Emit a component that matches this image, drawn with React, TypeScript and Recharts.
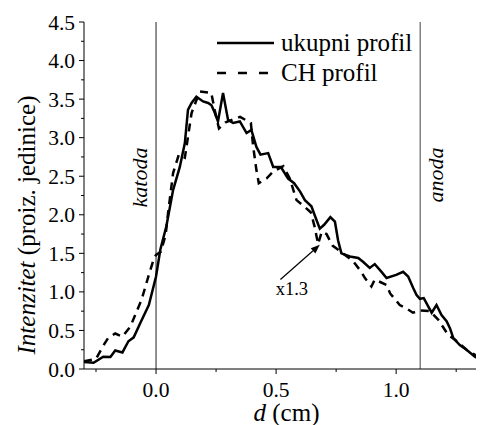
import React from 'react';
import { LineChart, Line, XAxis, YAxis, ReferenceLine, Legend, Label } from 'recharts';

const serif = 'Liberation Serif, DejaVu Serif, serif';

// ukupni profil (solid)
const ukupniD = [
  -0.3, -0.26, -0.22, -0.19, -0.17, -0.14, -0.115, -0.093, -0.065, -0.03, 0.0, 0.018, 0.043, 0.071,
  0.099, 0.12, 0.133, 0.148, 0.168, 0.196, 0.217, 0.231, 0.245, 0.258, 0.279, 0.3, 0.321, 0.349,
  0.377, 0.397, 0.418, 0.435, 0.467, 0.488, 0.52, 0.55, 0.575, 0.6, 0.62, 0.647, 0.66, 0.682, 0.7,
  0.726, 0.745, 0.758, 0.772, 0.807, 0.842, 0.862, 0.89, 0.911, 0.939, 0.96, 1.0, 1.029, 1.05,
  1.071, 1.085, 1.099, 1.115, 1.134, 1.148, 1.168, 1.189, 1.21, 1.224, 1.238, 1.265, 1.293, 1.328,
  1.349, 1.37,
];
const ukupniI = [
  0.09, 0.08, 0.16, 0.155, 0.24, 0.215, 0.36, 0.41, 0.6, 0.83, 1.2, 1.55, 1.85, 2.32,
  2.62, 2.93, 3.36, 3.45, 3.53, 3.47, 3.45, 3.42, 3.32, 3.21, 3.58, 3.23, 3.19, 3.21,
  3.06, 3.1, 2.88, 2.78, 2.8, 2.62, 2.62, 2.47, 2.41, 2.3, 2.19, 2.11, 2.0, 1.82, 1.87,
  1.97, 1.91, 1.67, 1.5, 1.46, 1.44, 1.39, 1.31, 1.36, 1.26, 1.18, 1.22, 1.26, 1.2,
  1.05, 0.96, 0.91, 0.92, 0.81, 0.73, 0.83, 0.7, 0.62, 0.53, 0.4, 0.31, 0.25, 0.16,
  0.12, 0.11,
];

// CH profil (dashed)
const chD = [
  -0.3, -0.25, -0.22, -0.2, -0.17, -0.14, -0.107, -0.06, -0.03, -0.01, 0.0, 0.02, 0.04, 0.05,
  0.071, 0.095, 0.12, 0.133, 0.148, 0.182, 0.23, 0.245, 0.262, 0.29, 0.35, 0.395, 0.404, 0.418,
  0.428, 0.46, 0.488, 0.53, 0.557, 0.585, 0.62, 0.645, 0.66, 0.675, 0.69, 0.71, 0.735, 0.77,
  0.82, 0.855, 0.87, 0.897, 0.911, 0.96, 0.975, 1.015, 1.04, 1.07, 1.1, 1.14, 1.175, 1.217,
  1.245, 1.293, 1.356, 1.37,
];
const chI = [
  0.1, 0.13, 0.3, 0.4, 0.46, 0.42, 0.55, 0.9, 1.22, 1.42, 1.48, 1.52, 1.74, 2.02,
  2.54, 2.78, 2.74, 3.01, 3.32, 3.6, 3.58, 3.35, 3.12, 3.2, 3.27, 3.19, 2.9, 2.58,
  2.41, 2.47, 2.56, 2.63, 2.47, 2.19, 2.1, 2.03, 1.85, 1.62, 1.78, 1.75, 1.6, 1.52,
  1.4, 1.26, 1.18, 1.07, 1.16, 1.09, 0.98, 0.83, 0.79, 0.73, 0.76, 0.75, 0.64, 0.44,
  0.38, 0.25, 0.13, 0.12,
];

const seriesNames = ['ukupni profil', 'CH profil'];
const xTicks = [-0.25, 0, 0.25, 0.5, 0.75, 1.0, 1.25];
const yTicks = [0, 0.25, 0.5, 0.75, 1, 1.25, 1.5, 1.75, 2, 2.25, 2.5, 2.75, 3, 3.25, 3.5, 3.75, 4, 4.25, 4.5];
const katodaD = 0;
const anodaD = 1.1;
const arrowFrom = { x: 0.518, y: 1.16 };
const arrowTo = { x: 0.682, y: 1.61 };
const arrowText = 'x1.3';

const ukupniData = ukupniD.map((d, i) => ({ d, v: ukupniI[i] }));
const chData = chD.map((d, i) => ({ d, v: chI[i] }));

const isMajor = (v: number) => Math.abs(v * 2 - Math.round(v * 2)) < 1e-6;

const BottomTick = (props: any) => {
  const { x, y, payload } = props;
  const major = isMajor(payload.value);
  return (
    <g>
      <line x1={x} x2={x} y1={y} y2={y + (major ? 5 : 3)} stroke="#000" />
      {major && (
        <text x={x} y={y + 28} textAnchor="middle" fontFamily={serif} fontSize={21.5} fill="#000">
          {payload.value.toFixed(1)}
        </text>
      )}
    </g>
  );
};

const TopTick = (props: any) => {
  const { x, y, payload } = props;
  const major = isMajor(payload.value);
  return <line x1={x} x2={x} y1={y} y2={y + (major ? 6 : 3)} stroke="#000" />;
};

const LeftTick = (props: any) => {
  const { x, y, payload } = props;
  const major = isMajor(payload.value);
  return (
    <g>
      <line x1={x - (major ? 5 : 3)} x2={x} y1={y} y2={y} stroke="#000" />
      {major && (
        <text x={x - 9} y={y} dy="0.35em" textAnchor="end" fontFamily={serif} fontSize={21.5} fill="#000">
          {payload.value.toFixed(1)}
        </text>
      )}
    </g>
  );
};

const ArrowShape = (props: any) => {
  const { x1, y1, x2, y2 } = props;
  const len = Math.hypot(x2 - x1, y2 - y1);
  const ux = (x2 - x1) / len;
  const uy = (y2 - y1) / len;
  const hl = 9;
  const hw = 3.5;
  const bx = x2 - ux * hl;
  const by = y2 - uy * hl;
  return (
    <g>
      <line x1={x1} y1={y1} x2={bx} y2={by} stroke="#000" strokeWidth={1.2} />
      <polygon
        points={`${x2},${y2} ${bx - uy * hw},${by + ux * hw} ${bx + uy * hw},${by - ux * hw}`}
        fill="#000"
      />
      <text x={x1 + 11.5} y={y1 + 15} textAnchor="middle" fontFamily={serif} fontSize={18.5} fill="#000">
        {arrowText}
      </text>
    </g>
  );
};

const LegendContent = () => (
  <div style={{ fontFamily: serif, fontSize: 25, color: '#000' }}>
    {seriesNames.map((n, i) => (
      <div key={n} style={{ display: 'flex', alignItems: 'center', height: 30 }}>
        <svg width={57} height={30}>
          <line x1={0} x2={57} y1={15} y2={15} stroke="#000" strokeWidth={2.5} strokeDasharray={i ? '9 12' : undefined} />
        </svg>
        <span style={{ marginLeft: 7, lineHeight: '30px', whiteSpace: 'nowrap' }}>{n}</span>
      </div>
    ))}
  </div>
);

export default function App() {
  return (
    <div style={{ width: 476, height: 417, overflow: 'hidden' }}>
      <LineChart width={490} height={417} margin={{ top: 14, right: 13, left: 0, bottom: 0 }}>
        <XAxis
          dataKey="d"
          type="number"
          domain={[-0.3, 1.37]}
          allowDataOverflow
          ticks={xTicks}
          interval={0}
          height={56}
          tickSize={0}
          tickMargin={0}
          tickLine={false}
          tick={<BottomTick />}
          axisLine={{ stroke: '#000' }}
        >
          <Label
            content={() => (
              <text x={278.5} y={413} textAnchor="middle" fontFamily={serif} fontSize={25} fill="#000">
                <tspan fontStyle="italic">d</tspan>
                <tspan> (cm)</tspan>
              </text>
            )}
          />
        </XAxis>
        <XAxis
          xAxisId="top"
          orientation="top"
          type="number"
          domain={[-0.3, 1.37]}
          allowDataOverflow
          ticks={xTicks}
          interval={0}
          height={0}
          tickSize={0}
          tickMargin={0}
          tickLine={false}
          tick={<TopTick />}
          axisLine={{ stroke: '#000' }}
        />
        <YAxis
          type="number"
          domain={[0, 4.5]}
          allowDataOverflow
          ticks={yTicks}
          interval={0}
          width={76}
          tickSize={0}
          tickMargin={0}
          tickLine={false}
          tick={<LeftTick />}
          axisLine={{ stroke: '#000' }}
        >
          <Label
            content={() => (
              <text
                x={27}
                y={217}
                transform="rotate(-90 27 217)"
                textAnchor="middle"
                fontFamily={serif}
                fontSize={25}
                fill="#000"
              >
                <tspan fontStyle="italic">Intenzitet</tspan>
                <tspan> (proiz. jedinice)</tspan>
              </text>
            )}
          />
        </YAxis>
        <ReferenceLine
          x={katodaD}
          stroke="#222"
          strokeWidth={1}
          label={(p: any) => {
            const vx = p.viewBox.x - 9.3;
            const vy = 169.5;
            return (
              <text x={vx} y={vy} transform={`rotate(-90 ${vx} ${vy})`} textAnchor="middle" fontFamily={serif} fontStyle="italic" fontSize={22} fill="#000">
                katoda
              </text>
            );
          }}
        />
        <ReferenceLine
          x={anodaD}
          stroke="#444"
          strokeWidth={1}
          label={(p: any) => {
            const vx = p.viewBox.x + 22.7;
            const vy = 167;
            return (
              <text x={vx} y={vy} transform={`rotate(-90 ${vx} ${vy})`} textAnchor="middle" fontFamily={serif} fontStyle="italic" fontSize={22} fill="#000">
                anoda
              </text>
            );
          }}
        />
        <ReferenceLine segment={[arrowFrom, arrowTo]} shape={(p: any) => <ArrowShape {...p} />} />
        <Line
          data={ukupniData}
          dataKey="v"
          name={seriesNames[0]}
          type="linear"
          stroke="#000"
          strokeWidth={2.5}
          dot={false}
          isAnimationActive={false}
        />
        <Line
          data={chData}
          dataKey="v"
          name={seriesNames[1]}
          type="linear"
          stroke="#000"
          strokeWidth={2.5}
          strokeDasharray="8 6"
          dot={false}
          isAnimationActive={false}
        />
        <Legend
          layout="vertical"
          align="center"
          verticalAlign="middle"
          wrapperStyle={{ top: 20, left: 209, width: 240, height: 60 }}
          content={<LegendContent />}
        />
      </LineChart>
    </div>
  );
}
